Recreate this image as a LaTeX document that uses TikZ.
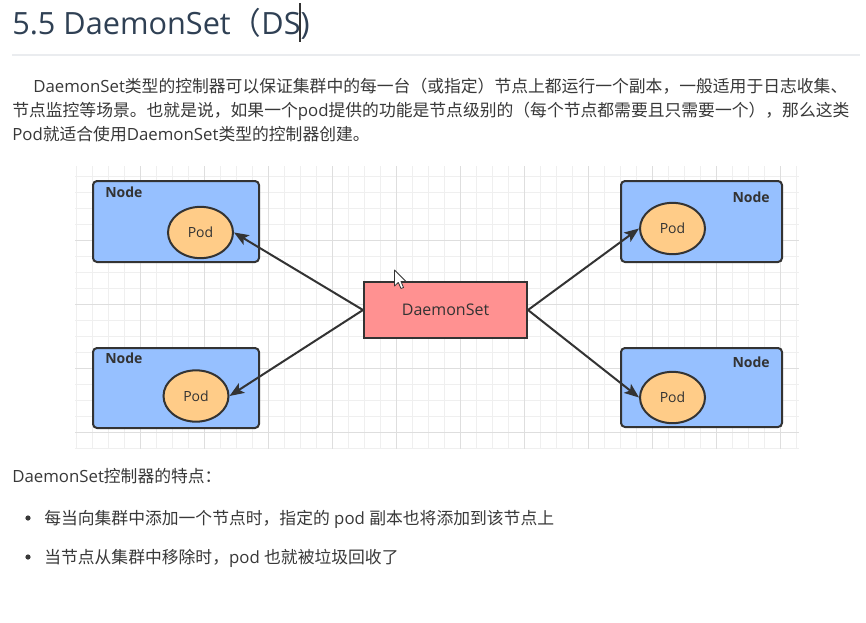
\documentclass[tikz,border=0pt]{standalone}
\usepackage{fontspec}
\setmainfont{Open Sans}
\newfontfamily\cjk{Noto Sans CJK SC}
\usetikzlibrary{arrows.meta,shapes.geometric}
\definecolor{titlec}{HTML}{2F4054}
\definecolor{txt}{HTML}{383838}
\definecolor{nodeblue}{HTML}{96C0FF}
\definecolor{podfill}{HTML}{FFCC88}
\definecolor{dsfill}{HTML}{FF9191}
\definecolor{edgec}{HTML}{333333}
\definecolor{gridminor}{HTML}{EFEFEF}
\definecolor{gridmajor}{HTML}{DEDEDE}
\definecolor{rulec}{HTML}{EAECEF}
\begin{document}
\begin{tikzpicture}[x=0.75pt,y=-0.75pt,
  txtline/.style={anchor=base west, inner sep=0pt, text=txt, font=\fontsize{12.6}{15}\selectfont},
  nodebox/.style={draw=edgec, line width=1.5pt, fill=nodeblue, rounded corners=3pt, inner sep=0pt},
  podshape/.style={ellipse, draw=edgec, line width=1.5pt, fill=podfill, inner sep=0pt, minimum width=48.75pt, minimum height=38.5pt, text=edgec, font=\fontsize{10.5}{12}\selectfont},
  dsbox/.style={draw=edgec, line width=1.5pt, fill=dsfill, minimum width=122.25pt, minimum height=42pt, inner sep=0pt, text=edgec, font=\fontsize{12}{14}\selectfont},
  nodelabel/.style={inner sep=0pt, text=edgec, font=\fontsize{10.5}{12}\selectfont\bfseries},
  conn/.style={draw=edgec, line width=1.5pt, -{Stealth[length=11pt,width=8.5pt,inset=2.5pt]}},
  gridline/.style={line width=0.75pt},
]
\fill[white] (0,0) rectangle (866,622);
\useasboundingbox (0,0) rectangle (866,622);

% title
\node[anchor=base west, inner sep=0pt, text=titlec, font=\fontsize{23}{27}\selectfont] (title) at (12,34) {5.5 DaemonSet{\cjk （}DS)};
\draw[edgec, line width=0.8pt] (300,3) -- (300,42);
\draw[rulec, line width=1.5pt] (12,55) -- (860,55);

% paragraph
\node[txtline] (t1) at (33,92) {DaemonSet{\cjk 类型的控制器可以保证集群中的每一台（或指定）节点上都运行一个副本，一般适用于日志收集、}};
\node[txtline] (t2) at (12,116) {{\cjk 节点监控等场景。也就是说，如果一个}pod{\cjk 提供的功能是节点级别的（每个节点都需要且只需要一个），那么这类}};
\node[txtline] (t3) at (12,140) {Pod{\cjk 就适合使用}DaemonSet{\cjk 类型的控制器创建。}};

% grid
\foreach \xx in {76.5,92.5,...,797} \draw[gridline, gridminor] (\xx,166) -- (\xx,448.7);
\foreach \yy in {176.7,192.7,...,449} \draw[gridline, gridminor] (75,\yy) -- (799,\yy);
\foreach \xx in {140.5,204.5,...,797} \draw[gridline, gridmajor] (\xx,166) -- (\xx,448.7);
\foreach \yy in {240.7,304.7,...,449} \draw[gridline, gridmajor] (75,\yy) -- (799,\yy);

% nodes
\node[nodebox, minimum width=124.5pt, minimum height=60.75pt] (n1) at (176,221.5) {};
\node[nodebox, minimum width=124.5pt, minimum height=60pt] (n2) at (176,388) {};
\node[nodebox, minimum width=120.75pt, minimum height=60.75pt] (n3) at (701.5,221.5) {};
\node[nodebox, minimum width=120.75pt, minimum height=59.25pt] (n4) at (701.5,387.5) {};
\node[nodelabel, anchor=west] (l1) at (105,192) {Node};
\node[nodelabel, anchor=west] (l2) at (105,358.5) {Node};
\node[nodelabel, anchor=east] (l3) at (770,197) {Node};
\node[nodelabel, anchor=east] (l4) at (770,362) {Node};

\node[podshape] (pod1) at (200.5,232.5) {Pod};
\node[podshape] (pod2) at (196,396) {Pod};
\node[podshape] (pod3) at (672.5,228.5) {Pod};
\node[podshape] (pod4) at (672.5,397.5) {Pod};

\node[dsbox] (ds) at (445.5,310) {DaemonSet};

\draw[conn] (ds.west) -- (pod1.east);
\draw[conn] (ds.west) -- (pod2.east);
\draw[conn] (ds.east) -- (pod3.west);
\draw[conn] (ds.east) -- (pod4.west);

% mouse pointer
\draw[edgec, fill=white, line width=0.6pt, line join=round] (394.5,270) -- (394.5,286) -- (398.3,282.5) -- (401,288.5) -- (403.5,287.5) -- (401,281.5) -- (406,281.5) -- cycle;

% bottom text
\node[txtline] (h2) at (12,482) {DaemonSet{\cjk 控制器的特点：}};
\fill[txt] (28,518) circle[radius=2.6];
\node[txtline] (b1) at (44,524) {{\cjk 每当向集群中添加一个节点时，指定的} pod {\cjk 副本也将添加到该节点上}};
\fill[txt] (28,557) circle[radius=2.6];
\node[txtline] (b2) at (44,563) {{\cjk 当节点从集群中移除时，}pod {\cjk 也就被垃圾回收了}};
\end{tikzpicture}
\end{document}
